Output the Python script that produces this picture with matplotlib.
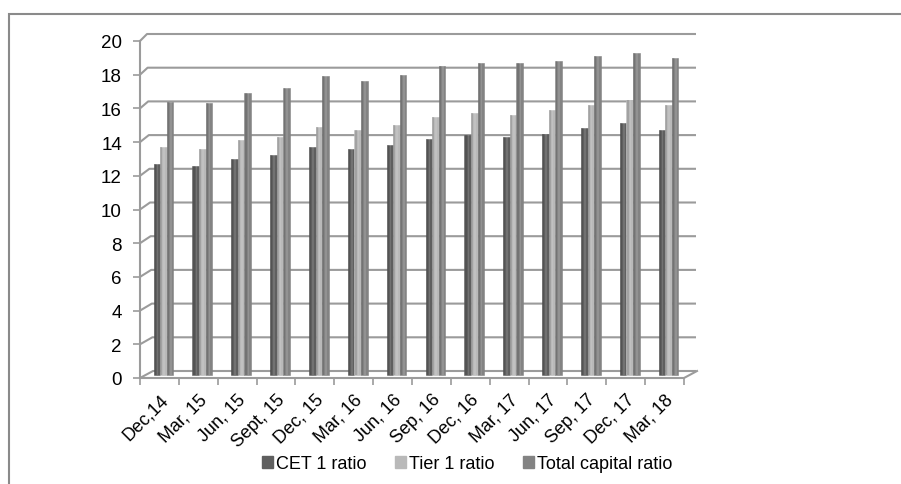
import matplotlib
matplotlib.use("Agg")
import matplotlib.pyplot as plt
import numpy as np
from matplotlib.patches import Rectangle
from matplotlib.transforms import ScaledTranslation

plt.rcParams["font.family"] = ["Liberation Sans", "DejaVu Sans"]

quarters = ["Dec,14", "Mar, 15", "Jun, 15", "Sept, 15", "Dec, 15", "Mar, 16", "Jun, 16",
            "Sep, 16", "Dec, 16", "Mar, 17", "Jun, 17", "Sep, 17", "Dec, 17", "Mar, 18"]
cet1 = [12.5, 12.4, 12.8, 13.0, 13.5, 13.4, 13.6, 14.0, 14.2, 14.1, 14.3, 14.6, 14.9, 14.5]
tier1 = [13.5, 13.4, 13.9, 14.1, 14.7, 14.5, 14.8, 15.3, 15.5, 15.4, 15.7, 16.0, 16.3, 16.0]
total_capital = [16.2, 16.1, 16.7, 17.0, 17.7, 17.4, 17.8, 18.3, 18.5, 18.5, 18.6, 18.9, 19.1, 18.8]

series = [("CET 1 ratio", cet1, "#5f5f5f"),
          ("Tier 1 ratio", tier1, "#b9b9b9"),
          ("Total capital ratio", total_capital, "#838383")]

W, H, DPI = 901, 485, 100
fig = plt.figure(figsize=(W / DPI, H / DPI), dpi=DPI)

# front plane of the pseudo-3D plot box (pixels)
x0, x1, y0, y1 = 140, 684, 379, 42
ax = fig.add_axes([x0 / W, 1 - y0 / H, (x1 - x0) / W, (y0 - y1) / H])
for s in ax.spines.values():
    s.set_visible(False)
ax.set_xlim(-0.5, len(quarters) - 0.5)
ax.set_ylim(0, 20)

grid_c = "#9b9b9b"
aw, ah = x1 - x0, y0 - y1
depth_up = 7


def depth_dx(v):
    # perspective: the box recedes a bit further at the floor than at the top
    return 13 - 6 * v / 20


yticks = np.arange(0, 21, 2)
for v in yticks:
    fy = v / 20
    bx = depth_dx(v) / aw
    by = fy + depth_up / ah
    ax.plot([0, bx, (696 - x0) / aw], [fy, by, by], transform=ax.transAxes,
            color=grid_c, lw=1.5, clip_on=False, zorder=1, solid_capstyle="butt")

# floor edges
ax.plot([0, 1, 1 + depth_dx(0) / aw], [0, 0, depth_up / ah], transform=ax.transAxes,
        color=grid_c, lw=1.5, clip_on=False, zorder=1)
ax.plot([0, 0], [0, 1], transform=ax.transAxes, color=grid_c, lw=1.5,
        clip_on=False, zorder=1)

# bars sit mid-depth inside the box
shift = ax.transData + ScaledTranslation(4 / DPI, 3.5 / DPI, fig.dpi_scale_trans)
bw = 0.17
x = np.arange(len(quarters))
for k, (name, vals, col) in enumerate(series):
    pos = x + (k - 1) * bw
    ax.bar(pos, vals, width=bw, color=col, edgecolor=col, lw=0.4,
           transform=shift, zorder=3, label=name)
    # darker strip on the left side of each column for a rounded look
    ax.bar(pos - bw * 0.32, vals, width=bw * 0.3, color="black", alpha=0.12,
           lw=0, transform=shift, zorder=4)
    ax.bar(pos + bw * 0.1, vals, width=bw * 0.25, color="white", alpha=0.12,
           lw=0, transform=shift, zorder=4)

ax.set_yticks(yticks)
ax.set_yticklabels([str(v) for v in yticks])
ax.tick_params(axis="y", length=5, width=1.2, color=grid_c, pad=8, labelsize=13.5)

ax.set_xticks(x)
ax.set_xticklabels(quarters, rotation=45, ha="right", va="top", rotation_mode="anchor")
ax.set_xticks(np.arange(-0.5, len(quarters)), minor=True)
ax.tick_params(axis="x", which="major", length=0, pad=9, labelsize=13)
ax.tick_params(axis="x", which="minor", length=5, width=1.2, color=grid_c)

handles = [Rectangle((0, 0), 1, 1, color=c) for _, _, c in series]
fig.legend(handles, [n for n, _, _ in series], loc="center",
           bbox_to_anchor=(467 / W, 1 - 465 / H), ncol=3, frameon=False,
           fontsize=13, handlelength=0.6, handleheight=0.6, handletextpad=0.15,
           columnspacing=1.6)

# outer chart frame
fig.add_artist(Rectangle((9 / W, -0.1), 1.2, 1 - 15 / H + 0.1, transform=fig.transFigure,
                         fill=False, edgecolor="#8a8a8a", lw=1.5))

fig.savefig("out.png", dpi=DPI)
